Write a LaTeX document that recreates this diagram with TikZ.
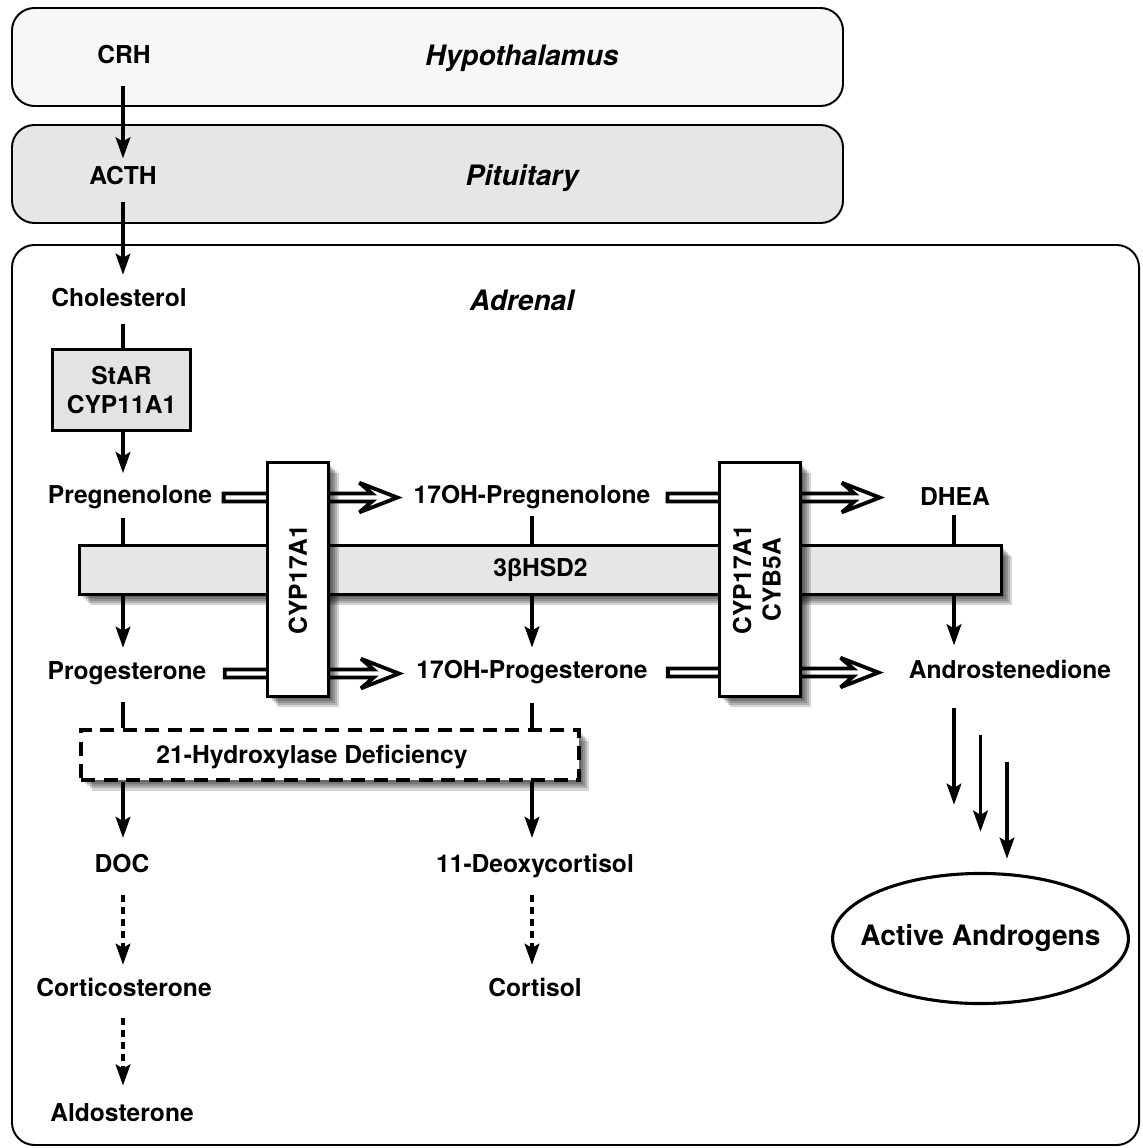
\documentclass[tikz,border=0pt]{standalone}
\usepackage{fontspec}
\setmainfont{TeX Gyre Heros}
\newfontfamily\greekfont{Liberation Sans}
\usetikzlibrary{arrows.meta, calc, positioning, shapes.geometric}
\definecolor{hypofill}{HTML}{F6F7F7}
\definecolor{pitfill}{HTML}{E6E6E6}
\definecolor{enzfill}{HTML}{E3E3E3}
\tikzset{>={Stealth[length=15pt,width=10.5pt,inset=3pt]}}
\tikzset{
  chem/.style={font=\fontsize{17.5}{21}\selectfont\bfseries, inner sep=1pt,
    text height=12.6pt, text depth=3.7pt, yshift=-1.8pt},
  organ/.style={font=\fontsize{20}{24}\selectfont\bfseries\itshape, yshift=-1.5pt},
  region/.style={draw, line width=1.4pt, rounded corners=16pt},
  shadelayer/.style={preaction={draw=none, fill=black, fill opacity=.17,
    transform canvas={shift={(#1,-#1)}}}},
  softshadow/.style={shadelayer=7.5pt, shadelayer=6pt, shadelayer=4.5pt,
    shadelayer=3pt, shadelayer=1.5pt},
  enzyme/.style={draw, line width=2.3pt, fill=white, softshadow, inner sep=0pt,
    font=\fontsize{17.5}{21}\selectfont\bfseries, align=center},
  dashbox/.style={dash pattern=on 10pt off 6pt, line width=2.8pt},
  link/.style={line width=2.3pt},
  flow/.style={->, line width=2.3pt, shorten <=7pt, shorten >=8pt},
  dflow/.style={flow, dash pattern=on 5pt off 3.5pt},
  % open double-line arrow, horizontal
  hollow/.style 2 args={line width=2.7pt, fill=white, line join=miter, miter limit=4,
    to path={let \p1=(\tikztostart), \p2=(\tikztotarget) in
      (\x1+#1,\y1+2.8pt) -- (\x2-#2-18pt,\y1+2.8pt) -- (\x2-#2-27pt,\y1+10.5pt)
      -- (\x2-#2,\y1) -- (\x2-#2-27pt,\y1-10.5pt) -- (\x2-#2-18pt,\y1-2.8pt)
      -- (\x1+#1,\y1-2.8pt) -- cycle}}
}
\begin{document}
\begin{tikzpicture}[x=0.025cm, y=-0.025cm]
\useasboundingbox (0,0) rectangle (1142,1148);

% organ frames
\draw[region, fill=hypofill] (12,8) rectangle (843,106);
\draw[region, fill=pitfill] (12,125) rectangle (843,223);
\draw[region] (12,245) rectangle (1139,1145);
\node[organ] (hypo) at (522,56) {Hypothalamus};
\node[organ] (pit) at (522,176) {Pituitary};
\node[organ] (adr) at (522,298) {Adrenal};

\coordinate (colA) at (123,0);
\coordinate (colB) at (532,0);
\coordinate (colC) at (954,0);

% metabolites
\node[chem] (crh) at (124,55) {CRH};
\node[chem] (acth) at (123,176) {ACTH};
\node[chem] (chol) at (119,298) {Cholesterol};
\node[draw, line width=2.3pt, fill=enzfill, align=center, inner sep=0pt,
  font=\fontsize{17.5}{21}\selectfont\bfseries,
  minimum width=98pt, minimum height=57.6pt] (star) at (121.5,390) {StAR\\CYP11A1};
\node[chem] (preg) at (130,495) {Pregnenolone};
\node[chem] (ohpreg) at (532,495) {17OH-Pregnenolone};
\node[chem] (dhea) at (955,497) {DHEA};
\node[chem] (prog) at (127,671) {Progesterone};
\node[chem] (ohprog) at (532,670) {17OH-Progesterone};
\node[chem] (andro) at (1010,670) {Androstenedione};
\node[chem] (doc) at (122,864) {DOC};
\node[chem] (deoxy) at (535,864) {11-Deoxycortisol};
\node[chem] (cortico) at (124,988) {Corticosterone};
\node[chem] (cortisol) at (535,988) {Cortisol};
\node[chem] (aldo) at (122,1113) {Aldosterone};
\node[draw, ellipse, line width=2.2pt, inner xsep=-11pt, inner ysep=0pt,
  font=\fontsize{20}{24}\selectfont\bfseries,
  minimum width=207.7pt, minimum height=92.5pt] (act) at (980.5,938.5) {Active Androgens};

% enzymes
\node[enzyme, fill=pitfill, minimum width=655.8pt, minimum height=34.9pt]
  (hsd) at (540.5,570) {3{\greekfont β}HSD2};
\draw[hollow={7pt}{10.4pt}] (preg.east) to (ohpreg.west);
\draw[hollow={11.8pt}{11.2pt}] (prog.east) to (ohprog.west);
\draw[hollow={11pt}{27.5pt}] (ohpreg.east) to (dhea.west);
\draw[hollow={13.2pt}{20.4pt}] (ohprog.east) to (andro.west);
\node[enzyme, minimum width=43.4pt, minimum height=166.4pt]
  (cypA) at (298,579.5) {\rotatebox{90}{CYP17A1}};
\node[enzyme, minimum width=57.6pt, minimum height=166.4pt]
  (cypB) at (760,579.5) {\rotatebox{90}{\begin{tabular}{@{}c@{}}CYP17A1\\CYB5A\end{tabular}}};
\node[enzyme, dashbox, minimum width=354pt, minimum height=35.6pt] (hyd) at (330,755) {};
\node[chem] (hydtxt) at (312,755) {21-Hydroxylase Deficiency};

% pathway arrows
\draw[flow, shorten <=10.7pt, shorten >=5pt] (crh.south -| colA) -- (acth.north -| colA);
\draw[flow, shorten >=9pt] (acth.south -| colA) -- (chol.north -| colA);
\draw[link, shorten <=7pt] (chol.south -| colA) -- (star.north -| colA);
\draw[flow, shorten <=0pt] (star.south -| colA) -- (preg.north -| colA);

\draw[link, shorten <=5pt] (preg.south -| colA) -- (hsd.north -| colA);
\draw[flow, shorten <=0pt, shorten >=9pt] (hsd.south -| colA) -- (prog.north -| colA);
\draw[link, shorten <=11pt] (prog.south -| colA) -- (hyd.north -| colA);
\draw[flow, shorten <=0pt, shorten >=11pt] (hyd.south -| colA) -- (doc.north -| colA);
\draw[dflow, shorten <=11pt, shorten >=9pt] (doc.south -| colA) -- (cortico.north -| colA);
\draw[dflow, shorten <=10pt, shorten >=12pt] (cortico.south -| colA) -- (aldo.north -| colA);

\draw[link, shorten <=4pt] (ohpreg.south -| colB) -- (hsd.north -| colB);
\draw[flow, shorten <=0pt, shorten >=8.5pt] (hsd.south -| colB) -- (ohprog.north -| colB);
\draw[link, shorten <=12pt] (ohprog.south -| colB) -- (hyd.north -| colB);
\draw[flow, shorten <=0pt, shorten >=11pt] (hyd.south -| colB) -- (deoxy.north -| colB);
\draw[dflow, shorten <=11pt, shorten >=9pt] (deoxy.south -| colB) -- (cortisol.north -| colB);

\draw[link, shorten <=2pt] (dhea.south -| colC) -- (hsd.north -| colC);
\draw[flow, shorten <=0pt, shorten >=10pt] (hsd.south -| colC) -- (andro.north -| colC);

% to the active androgens
\coordinate (andA) at (andro.south -| colC);
\foreach \i in {0,1,2}
  \draw[flow, shorten <=0pt, shorten >=0pt] ($(andA)+(26.5*\i,22+27*\i)$) -- ++(0,97);
\end{tikzpicture}
\end{document}
